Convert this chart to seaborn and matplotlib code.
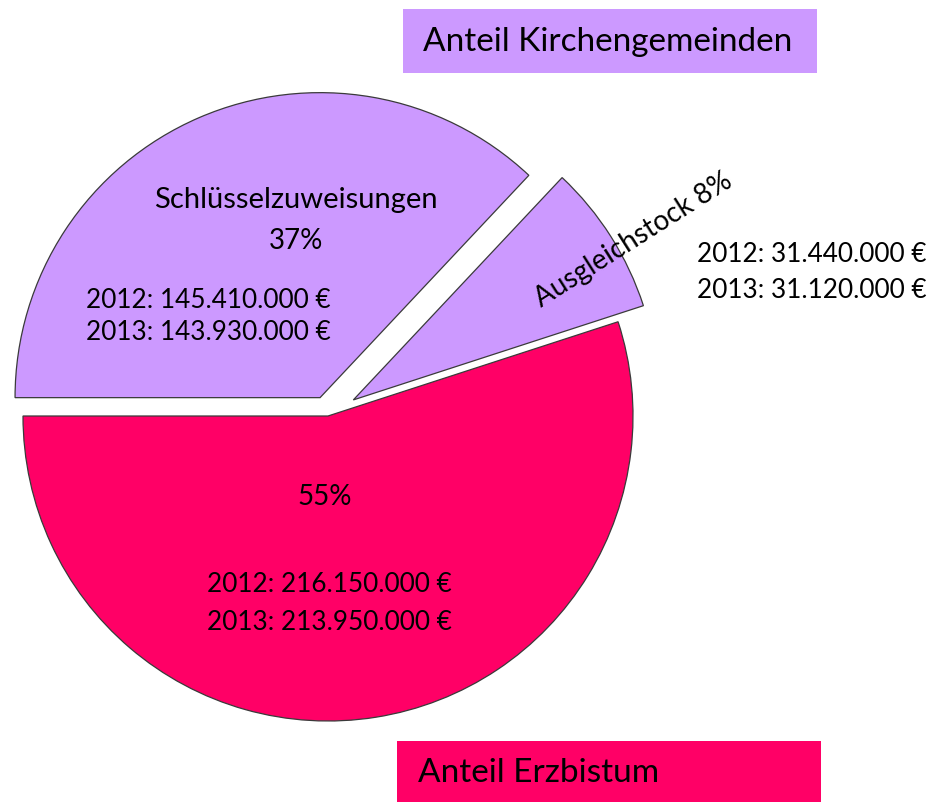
import matplotlib
matplotlib.use("Agg")
import matplotlib.pyplot as plt
from matplotlib.patches import Rectangle
import seaborn as sns

# data
categories = ["Anteil Erzbistum", "Ausgleichstock", "Schlüsselzuweisungen"]
shares = [55, 8, 37]
values_2012 = ["216.150.000", "31.440.000", "145.410.000"]
values_2013 = ["213.950.000", "31.120.000", "143.930.000"]
colors = ["#FF0066", "#CC99FF", "#CC99FF"]

sns.set_theme(style="white")
plt.rcParams['font.family'] = ['Lato', 'DejaVu Sans']
plt.rcParams['text.color'] = 'black'

W, H = 935, 802
fig = plt.figure(figsize=(W / 100, H / 100), dpi=100)
ax = fig.add_axes([0, 0, 1, 1])


def py(y):
    # pixel row (from top) to data y
    return H - y


# explode offsets are in data units (pixels here)
ax.pie(shares, colors=colors, startangle=180, counterclock=True,
       explode=(0, 30, 20), center=(328, py(416)), radius=305,
       wedgeprops=dict(edgecolor="#3a3a3a", linewidth=0.9), frame=True)
ax.set_xlim(0, W)
ax.set_ylim(0, H)
ax.set_aspect("equal")
ax.axis("off")

fl = 20
fn = 18.8
# Schlüsselzuweisungen
ax.text(296, py(200), categories[2], ha="center", va="center", fontsize=21)
ax.text(296, py(241), f"{shares[2]}%", ha="center", va="center", fontsize=fl)
ax.text(86, py(300), f"2012: {values_2012[2]} €", ha="left", va="center", fontsize=fn)
ax.text(86, py(332), f"2013: {values_2013[2]} €", ha="left", va="center", fontsize=fn)

# Ausgleichstock
ax.text(633, py(240), f"{categories[1]} {shares[1]}%", ha="center", va="center",
        rotation=32.4, rotation_mode="anchor", fontsize=fl)
ax.text(697, py(254), f"2012: {values_2012[1]} €", ha="left", va="center", fontsize=fn)
ax.text(697, py(290), f"2013: {values_2013[1]} €", ha="left", va="center", fontsize=fn)

# Erzbistum
ax.text(325, py(497), f"{shares[0]}%", ha="center", va="center", fontsize=fl)
ax.text(207, py(585), f"2012: {values_2012[0]} €", ha="left", va="center", fontsize=fn)
ax.text(207, py(622), f"2013: {values_2013[0]} €", ha="left", va="center", fontsize=fn)

# heading boxes
ax.add_patch(Rectangle((403, py(73)), 414, 64, facecolor="#CC99FF", edgecolor="none"))
ax.text(423, py(42), "Anteil Kirchengemeinden", ha="left", va="center", fontsize=24)
ax.add_patch(Rectangle((397, py(802)), 424, 61, facecolor="#FF0066", edgecolor="none"))
ax.text(418, py(773), categories[0], ha="left", va="center", fontsize=24)

fig.savefig("out.png", dpi=100)
